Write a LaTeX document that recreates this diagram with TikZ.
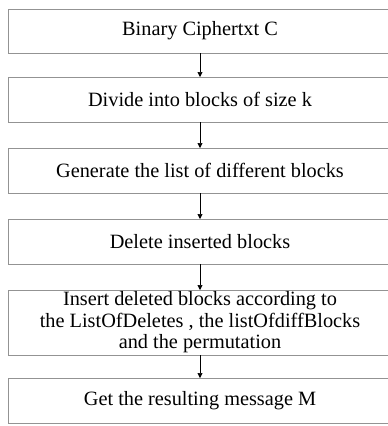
\documentclass[tikz,border=0pt]{standalone}
\usepackage{fontspec}
\setmainfont{Liberation Serif}
\usetikzlibrary{positioning, arrows.meta}

\begin{document}
\begin{tikzpicture}[x=1pt, y=1pt,
  stepbox/.style={draw=gray!85, line width=0.9pt, minimum width=384pt, minimum height=45pt,
    inner sep=0pt, outer sep=0pt, align=center, font=\fontsize{20.3}{21.5}\selectfont},
  arr/.style={-{Triangle[length=5pt, width=5pt]}, line width=0.6pt}]
\useasboundingbox (0,0) rectangle (388,-426);
\node[stepbox, minimum height=44pt] (b1) at (200,-31) {Binary Ciphertxt C};
\node[stepbox, below=24pt of b1] (b2) {Divide into blocks of size k};
\node[stepbox, below=26pt of b2] (b3) {Generate the list of different blocks};
\node[stepbox, below=26pt of b3] (b4) {Delete inserted blocks};
\node[stepbox, below=26pt of b4, minimum height=65pt] (b5) {Insert deleted blocks according to\\ the ListOfDeletes , the listOfdiffBlocks\\ and the permutation};
\node[stepbox, below=23pt of b5] (b6) {Get the resulting message M};
\draw[arr] (b1) -- (b2);
\draw[arr] (b2) -- (b3);
\draw[arr] (b3) -- (b4);
\draw[arr] (b4) -- (b5);
\draw[arr] (b5) -- (b6);
\end{tikzpicture}
\end{document}
